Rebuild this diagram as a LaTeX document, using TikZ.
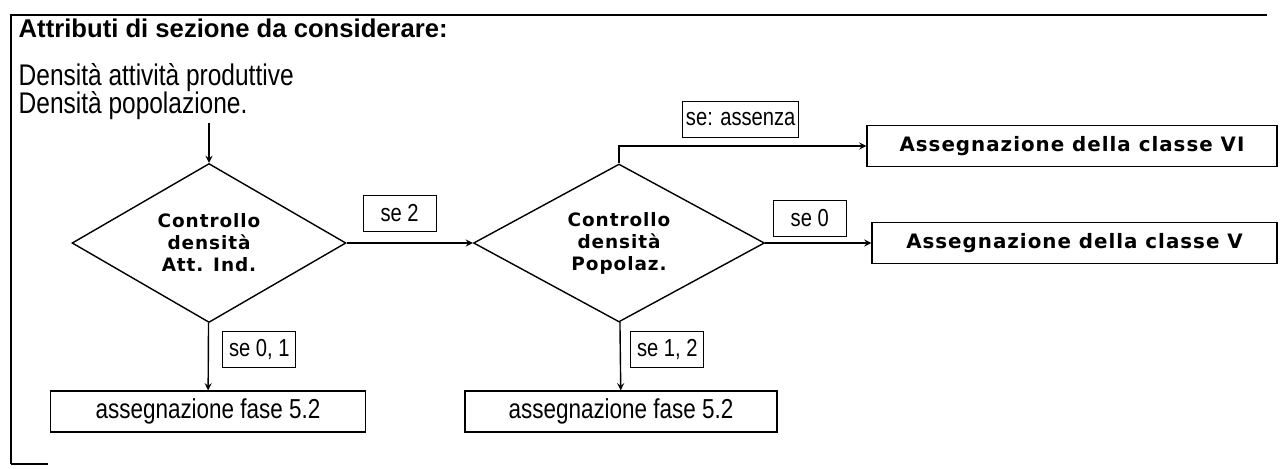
\documentclass[tikz,border=0pt]{standalone}
\usepackage{fontspec}
\setmainfont{Liberation Sans}
\newfontfamily\narrowfont{Liberation Sans}[FakeStretch=0.82]
\newfontfamily\widefont{DejaVu Sans}[LetterSpace=5]
\usetikzlibrary{shapes.geometric,positioning}

\begin{document}
\begin{tikzpicture}
            [x=0.02cm, y=-0.02cm, line width=0.8pt,
             test node/.style={diamond,draw,aspect=1.72,inner sep=0pt,align=center,
                               font=\widefont\bfseries\fontsize{10.5}{12.5}\selectfont},
             class node/.style={rectangle,draw,minimum height=0.82cm,
                               font=\widefont\bfseries\fontsize{11.3}{13}\selectfont},
             phase node/.style={rectangle,draw,minimum width=6.3cm,minimum height=0.82cm,
                               font=\narrowfont\fontsize{15.6}{18}\selectfont},
             cond/.style={rectangle,draw,line width=0.6pt,minimum width=1.46cm,minimum height=0.72cm,
                               inner sep=2pt,font=\narrowfont\fontsize{14}{16}\selectfont},
             note/.style={anchor=base west,inner sep=0pt}]
            \useasboundingbox (0,0) rectangle (1284,468);

            % frame
            \draw[line width=1.1pt] (11,464) -- (11,15) -- (1267,15);
            \draw[line width=1.1pt] (11,464) -- (48,464);

            % header
            \node[note, font=\bfseries\fontsize{14.6}{17}\selectfont] (title) at (18,37) {Attributi di sezione da considerare:};
            \node[note, font=\narrowfont\fontsize{17}{19}\selectfont] (attra) at (18,85) {Densità attività produttive};
            \node[note, font=\narrowfont\fontsize{17}{19}\selectfont] (attrb) at (18,113) {Densità popolazione.};
            \coordinate (start) at (209,123);

            \node[test node, minimum width=5.48cm, minimum height=3.18cm] (ind) at (209,243) {Controllo\\densità\\Att. Ind.};
            \node[test node, minimum width=5.82cm, minimum height=3.16cm] (pop) at (619,243) {Controllo\\densità\\Popolaz.};

            \node[class node, minimum width=8.2cm] (six) at (1072,146) {Assegnazione della classe VI};
            \node[class node, minimum width=8.1cm] (five) at (1074.5,243) {Assegnazione della classe V};
            \node[phase node] (fa) at (208,411.5) {assegnazione fase 5.2};
            \node[phase node, minimum width=6.24cm] (fb) at (621,411.5) {assegnazione fase 5.2};

            \draw[-stealth] (start) -- (ind.north);
            \draw[-stealth] (ind) -- node[cond, pos=0.42, above=0.22cm] {se 2} (pop);
            \draw[-stealth] (ind) -- node[cond, pos=0.4, right=0.28cm] {se 0, 1} (fa);
            \draw[-stealth] (pop.north) |- node[cond, pos=0.746, above=0.16cm] {se: assenza} (six.west);
            \draw[-stealth] (pop) -- node[cond, pos=0.42, above=0.12cm] {se 0} (five);
            \draw[-stealth] (pop) -- node[cond, pos=0.4, right=0.2cm] {se 1, 2} (fb);
         \end{tikzpicture}
\end{document}
